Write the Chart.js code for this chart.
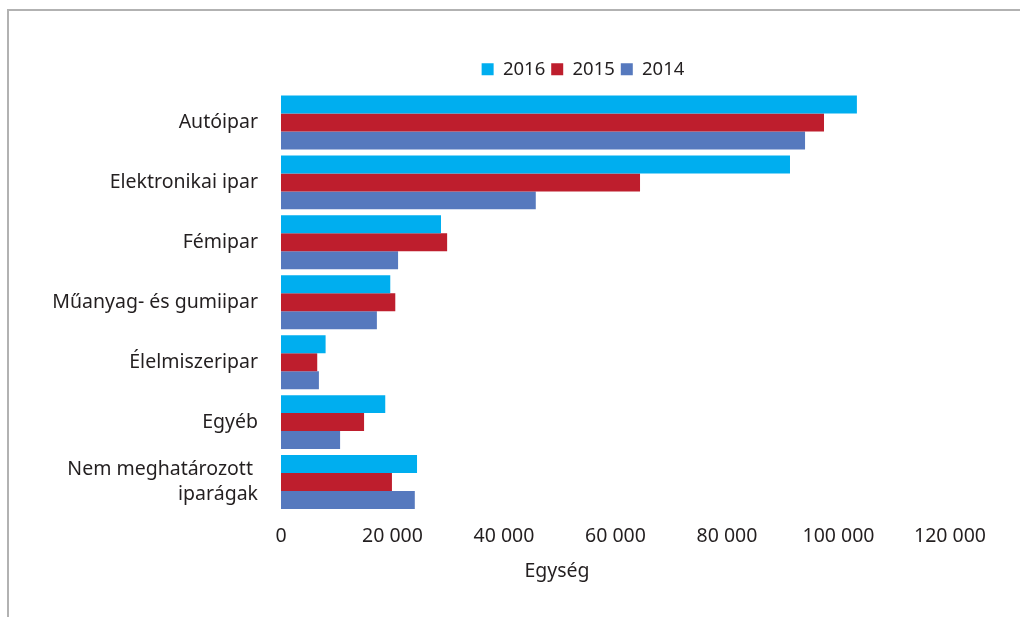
<!DOCTYPE html>
<html>
<head>
<meta charset="utf-8">
<script src="https://cdn.jsdelivr.net/npm/chart.js@4"></script>
<style>
  html, body { margin: 0; padding: 0; background: #fff; overflow: hidden; }
  #frame {
    position: absolute; left: 7px; top: 9px; width: 1100px; height: 700px;
    border-top: 2px solid #b2b2b2; border-left: 2px solid #b2b2b2;
  }
  /* wider than the window so the legend centres where the original has it */
  #wrap { position: absolute; left: 0; top: 0; width: 1166px; height: 617px; }
</style>
</head>
<body>
<div id="frame"></div>
<div id="wrap"><canvas id="chart"></canvas></div>
<script>
// categories (top to bottom)
const categories = [
  'Autóipar',
  'Elektronikai ipar',
  'Fémipar',
  'Műanyag- és gumiipar',
  'Élelmiszeripar',
  'Egyéb',
  ['Nem meghatározott ', 'iparágak']
];

// values
const values2016 = [103300, 91300, 28700, 19600, 8000, 18700, 24400];
const values2015 = [97400, 64400, 29800, 20500, 6500, 14900, 19900];
const values2014 = [94000, 45700, 21000, 17200, 6800, 10600, 24000];

const xTicks = [0, 20000, 40000, 60000, 80000, 100000, 120000];
const axisTitle = 'Egység';

const textColor = '#231f20';
const fontFamily = '"Noto Sans", "Open Sans", sans-serif';

// thousands with a space: 20 000
function fmt(v) {
  return String(v).replace(/\B(?=(\d{3})+(?!\d))/g, ' ');
}

// empty spacer axes, only used to push the plot area into place
const spacer = size => ({
  type: 'linear',
  display: true,
  grid: { display: false, drawTicks: false },
  border: { display: false },
  ticks: { display: false },
  afterFit: scale => {
    if (scale.isHorizontal()) scale.height = size; else scale.width = size;
  }
});

const ctx = document.getElementById('chart').getContext('2d');
new Chart(ctx, {
  type: 'bar',
  data: {
    labels: categories,
    datasets: [
      { label: '2016', data: values2016, backgroundColor: '#00aeef' },
      { label: '2015', data: values2015, backgroundColor: '#be1e2d' },
      { label: '2014', data: values2014, backgroundColor: '#5679be' }
    ]
  },
  options: {
    indexAxis: 'y',
    responsive: true,
    maintainAspectRatio: false,
    animation: false,
    categoryPercentage: 0.9,
    barPercentage: 1.0,
    layout: { padding: { left: 0, right: 0, top: 54, bottom: 0 } },
    plugins: {
      tooltip: { enabled: false },
      legend: {
        position: 'top',
        labels: {
          boxWidth: 12,
          boxHeight: 12,
          padding: 6,
          color: textColor,
          font: { family: fontFamily, size: 18.5 }
        }
      }
    },
    scales: {
      x: {
        min: 0,
        max: 120000,
        afterBuildTicks: scale => { scale.ticks = xTicks.map(v => ({ value: v })); },
        afterFit: scale => { scale.height = 105; },
        grid: { display: false, drawTicks: false },
        border: { display: false },
        ticks: {
          padding: 13,
          color: textColor,
          font: { family: fontFamily, size: 19.5 },
          maxRotation: 0,
          autoSkip: false,
          callback: v => fmt(v)
        },
        title: {
          display: true,
          // trailing spaces pull the title left, as in the original
          text: axisTitle + '\u2003'.repeat(6),
          color: textColor,
          font: { family: fontFamily, size: 19.5 },
          padding: { top: 0, bottom: 34 }
        }
      },
      xTop: Object.assign(spacer(4), { axis: 'x', position: 'top' }),
      y: {
        afterFit: scale => { scale.width = 281; },
        grid: { display: false, drawTicks: false },
        border: { display: false },
        ticks: {
          padding: 23,
          color: textColor,
          font: { family: fontFamily, size: 19.5, lineHeight: 1.28 }
        }
      },
      yRight: Object.assign(spacer(216), { axis: 'y', position: 'right' })
    }
  }
});
</script>
</body>
</html>
